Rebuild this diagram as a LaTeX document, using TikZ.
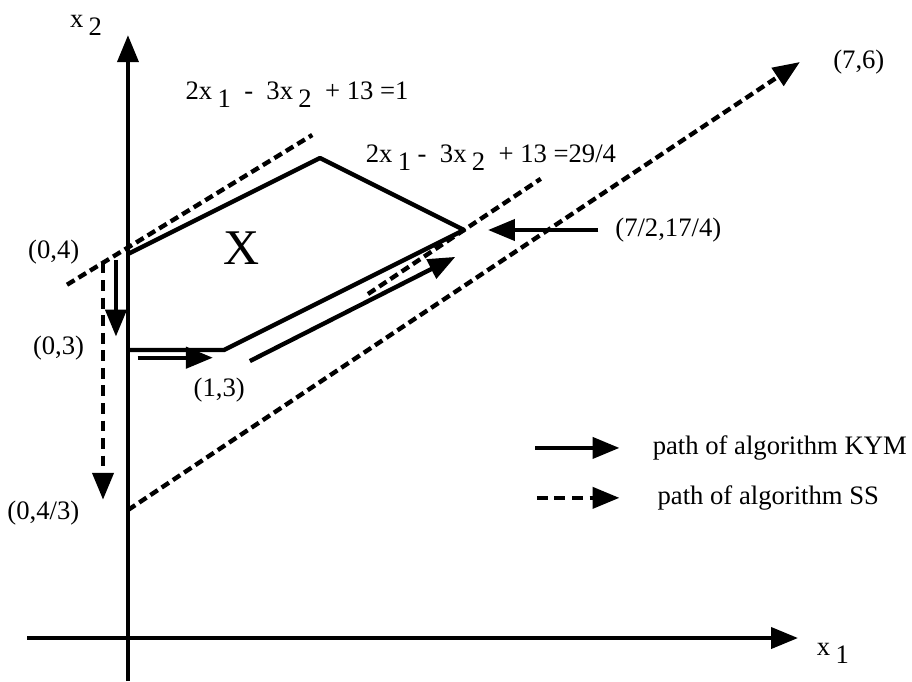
\documentclass[tikz,border=0pt]{standalone}
\usepackage{fontspec}
\setmainfont{Liberation Serif}
\usetikzlibrary{arrows.meta}
\newcommand{\lowsub}[1]{\kern0.2em\raisebox{-0.3em}{#1}}

\begin{document}
\begin{tikzpicture}[x=1cm, y=1cm,
  every node/.style={font=\fontsize{7.9}{9}\selectfont, inner sep=0pt},
  axis/.style={line width=1.2pt, -{Triangle[length=8pt,width=6.2pt]}},
  edge/.style={line width=1.3pt, line join=round},
  level/.style={line width=1.3pt, dash pattern=on 2.6pt off 1.4pt},
  kym/.style={line width=1.3pt, -{Triangle[length=8pt,width=6.2pt]}},
  ss/.style={kym, dash pattern=on 3.2pt off 2pt}]

\useasboundingbox (-1.333,-0.448) rectangle (8.167,6.646);

% Axes
\coordinate (xs) at (-1.05,0);
\coordinate (xe) at (6.98,0);
\coordinate (ys) at (0,-0.45);
\coordinate (ye) at (0,6.28);
\draw[axis] (xs) -- (xe);
\draw[axis] (ys) -- (ye);
\node[anchor=base west] (xlab) at (7.17,-0.18) {x\lowsub{1}};
\node[anchor=base west] (ylab) at (-0.61,6.36) {x\lowsub{2}};

% Vertices of X
\coordinate (v1) at (0,4);
\coordinate (v2) at (2,5);
\coordinate (v3) at (3.5,4.25);
\coordinate (v4) at (1,3);
\coordinate (v5) at (0,3);
\draw[edge] (v5) -- (v4) -- (v3) -- (v2) -- (v1);
\node[font=\fontsize{14.8}{16}\selectfont] (X) at (1.18,4.06) {X};

% Level lines
\coordinate (l1a) at (-0.635,3.68);
\coordinate (l1b) at (1.92,5.24);
\coordinate (l2a) at (2.5,3.583);
\coordinate (l2b) at (4.3,4.783);
\draw[level] (l1a) -- (l1b);
\draw[level] (l2a) -- (l2b);
\node[anchor=base west] (eq1) at (0.594,5.61) {2x\lowsub{1} \ - \ 3x\lowsub{2} \ + 13 =1};
\node[anchor=base west] (eq2) at (2.47,4.95) {2x\lowsub{1} - \ 3x\lowsub{2} \ + 13 =29/4};

% Point labels
\node[anchor=east] (p04) at (-0.5,4.02) {(0,4)};
\node[anchor=east] (p03) at (-0.45,3.02) {(0,3)};
\node (p13) at (0.95,2.58) {(1,3)};
\node[anchor=east] (p043) at (-0.5,1.3) {(0,4/3)};
\node[anchor=west] (p76) at (7.34,6.0) {(7,6)};
\node[anchor=west] (pv3) at (5.07,4.25) {(7/2,17/4)};
\draw[kym, shorten <=0.17cm, shorten >=0.25cm] (pv3.west) -- (v3);

% Path of KYM
\coordinate (k1) at (-0.125,3.94);
\coordinate (k2) at (-0.125,3.14);
\coordinate (k3) at (0.10,2.92);
\coordinate (k4) at (0.885,2.92);
\coordinate (k5) at (1.27,2.885);
\coordinate (k6) at (3.41,3.97);
\draw[kym] (k1) -- (k2);
\draw[kym] (k3) -- (k4);
\draw[kym] (k5) -- (k6);

% Path of SS
\coordinate (s1) at (-0.26,3.91);
\coordinate (s2) at (-0.26,1.44);
\coordinate (s3) at (0,4/3);
\coordinate (s4) at (7,6);
\draw[ss] (s1) -- (s2);
\draw[kym, level] (s3) -- (s4);

% Legend
\node[anchor=west] (lgk) at (5.46,1.98) {path of algorithm KYM};
\node[anchor=west] (lgs) at (5.51,1.46) {path of algorithm SS};
\coordinate (lk) at (4.24,1.98);
\coordinate (ls) at (4.26,1.46);
\draw[kym, shorten >=0.34cm] (lk) -- (lgk.west);
\draw[ss, shorten >=0.39cm] (ls) -- (lgs.west);
\end{tikzpicture}
\end{document}
